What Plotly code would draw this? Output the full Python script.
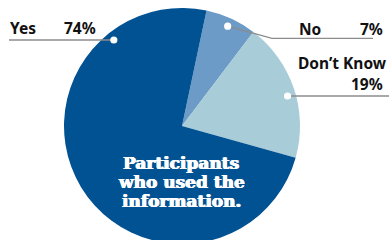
import math
import plotly.graph_objects as go

# ---- data ----
labels = ["No", "Don't Know", "Yes"]
values = [7, 19, 74]
pct_labels = ["7%", "19%", "74%"]
center_lines = ["Participants", "who used the", "information."]

# ---- style ----
colors = ["#6B9BC6", "#A8CCD8", "#005293"]
LINE_COLOR = "#8C8C8C"
TEXT_COLOR = "#111111"
LABEL_FONT = "Noto Sans"
CENTER_FONT = "DejaVu Serif"

W, H = 389, 248
CX, CY, R = 182, 126, 118
ROT = 12
DOT_FRAC = 0.93


def px(x):
    return x / W


def py(y):
    return 1 - y / H


fig = go.Figure()
fig.add_trace(go.Pie(
    labels=labels, values=values, sort=False, direction="clockwise",
    rotation=ROT, marker=dict(colors=colors, line=dict(width=0)),
    textinfo="none", hoverinfo="skip", showlegend=False,
    domain=dict(x=[px(CX - R), px(CX + R)], y=[py(CY + R), py(CY - R)]),
))

# slice angles (clockwise from 12 o'clock)
total = sum(values)
starts, a = [], ROT
for v in values:
    starts.append(a)
    a += v / total * 360
mids = [s + v / total * 180 for s, v in zip(starts, values)]

rd = DOT_FRAC * R


def on_circle_at_y(y, side):
    return CX + side * math.sqrt(rd ** 2 - (y - CY) ** 2)


shapes = []
annotations = []


def line(pts):
    path = "M " + " L ".join(f"{px(x)},{py(y)}" for x, y in pts)
    shapes.append(dict(type="path", xref="paper", yref="paper", path=path,
                       line=dict(color=LINE_COLOR, width=1.3), layer="above"))


def dot(x, y):
    shapes.append(dict(type="circle", xref="paper", yref="paper",
                       xsizemode="pixel", ysizemode="pixel",
                       xanchor=px(x), yanchor=py(y), x0=-3.6, x1=3.6, y0=-3.6, y1=3.6,
                       fillcolor="white", line=dict(width=0), layer="above"))


def text(t, x, y, xanchor, size=15.5, color=TEXT_COLOR, family=LABEL_FONT, shadow=None):
    font = dict(family=family, size=size, color=color, weight="bold")
    if shadow:
        font["shadow"] = shadow
    annotations.append(dict(text=t, x=px(x), y=py(y), xref="paper", yref="paper",
                            xanchor=xanchor, yanchor="middle", showarrow=False,
                            font=font))


# Yes (index 2)
yl = 40
dx_yes = on_circle_at_y(yl, -1)
line([(9, yl), (dx_yes, yl)])
dot(dx_yes, yl)
text(labels[2], 8, 28, "left")
text(pct_labels[2], 98, 28, "right")

# No (index 0)
am = math.radians(mids[0])
nx, ny = CX + rd * math.sin(am), CY - rd * math.cos(am)
yl = 38.3
line([(nx, ny), (272, yl), (373, yl)])
dot(nx, ny)
text(labels[0], 297, 29.2, "left")
text(pct_labels[0], 385, 29.2, "right")

# Don't Know (index 1)
yl = 96
dx_dk = on_circle_at_y(yl, 1)
line([(dx_dk, yl), (389, yl)])
dot(dx_dk, yl)
text(labels[1].replace("'", "\u2019"), 296, 63.3, "left")
text(pct_labels[1], 385, 83.7, "right")

# centre text, one annotation per line
for i, t in enumerate(center_lines):
    text(t, 181, 163.2 + 19 * i, "center", size=17, color="white", family=CENTER_FONT,
         shadow="0.6px 0 0 white, -0.6px 0 0 white")

fig.update_layout(width=W, height=H, margin=dict(l=0, r=0, t=0, b=0),
                  paper_bgcolor="white", plot_bgcolor="white",
                  shapes=shapes, annotations=annotations)

fig.write_html("out.html", config={"displayModeBar": False},
               post_script="document.body.style.margin='0';document.body.style.overflow='hidden';")
